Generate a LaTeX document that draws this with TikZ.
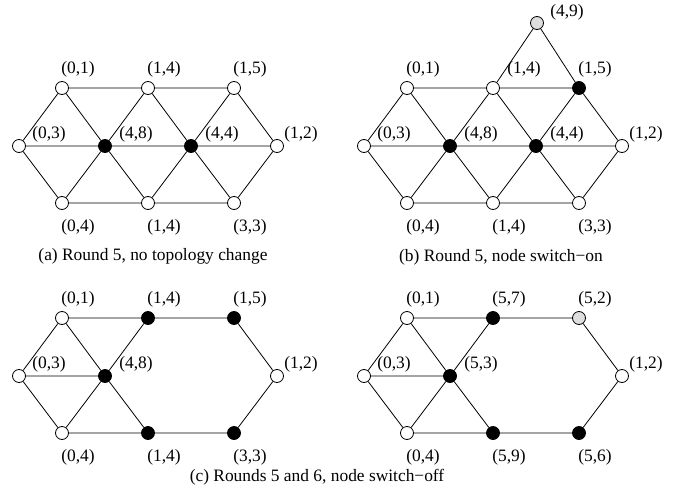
\documentclass[tikz,border=0pt]{standalone}
\usepackage{fontspec}
\setmainfont{Liberation Serif}
\begin{document}
\begin{tikzpicture}[x=1pt,y=-1pt,
  vtx/.style={circle,draw,line width=0.8pt,minimum size=13pt,inner sep=0pt},
  wn/.style={vtx,fill=white},
  bn/.style={vtx,fill=black},
  gn/.style={vtx,fill=black!13},
  lab/.style={font=\fontsize{17.4}{19}\selectfont,inner sep=0pt},
  captxt/.style={font=\fontsize{17.4}{19}\selectfont,inner sep=0pt},
  conn/.style={line width=0.8pt}]
\useasboundingbox (0,0) rectangle (686,498);
\newcommand\lbl[4]{\node[lab,xshift=#2pt,yshift=#3pt] at (#1) {#4};}

% ---------------- panel (a)
\begin{scope}
\node[wn] (aL)  at (19,146) {};
\node[wn] (aT1) at (62,88) {};
\node[wn] (aT2) at (148,88) {};
\node[wn] (aT3) at (234,88) {};
\node[bn] (aM1) at (105,146) {};
\node[bn] (aM2) at (191,146) {};
\node[wn] (aR)  at (277,146) {};
\node[wn] (aB1) at (62,203) {};
\node[wn] (aB2) at (148,203) {};
\node[wn] (aB3) at (234,203) {};
\end{scope}
\draw[conn] (aT1)--(aT2) (aT2)--(aT3) (aL)--(aM1) (aM1)--(aM2) (aM2)--(aR)
  (aB1)--(aB2) (aB2)--(aB3)
  (aL)--(aT1) (aL)--(aB1) (aT1)--(aM1) (aB1)--(aM1) (aM1)--(aT2) (aM1)--(aB2)
  (aT2)--(aM2) (aB2)--(aM2) (aM2)--(aT3) (aM2)--(aB3) (aT3)--(aR) (aB3)--(aR);
\lbl{aT1}{16}{19}{(0,1)}
\lbl{aT2}{16}{19}{(1,4)}
\lbl{aT3}{16}{19}{(1,5)}
\lbl{aL}{30}{12}{(0,3)}
\lbl{aM1}{31}{12}{(4,8)}
\lbl{aM2}{31}{12}{(4,4)}
\lbl{aR}{24}{12}{(1,2)}
\lbl{aB1}{16}{-24}{(0,4)}
\lbl{aB2}{16}{-24}{(1,4)}
\lbl{aB3}{16}{-24}{(3,3)}
\node[captxt] (capa) at (153,256) {(a) Round 5, no topology change};

% ---------------- panel (b)
\begin{scope}[shift={(345,0)}]
\node[wn] (bL)  at (19,146) {};
\node[wn] (bT1) at (62,88) {};
\node[wn] (bT2) at (148,88) {};
\node[bn] (bT3) at (234,88) {};
\node[bn] (bM1) at (105,146) {};
\node[bn] (bM2) at (191,146) {};
\node[wn] (bR)  at (277,146) {};
\node[wn] (bB1) at (62,203) {};
\node[wn] (bB2) at (148,203) {};
\node[wn] (bB3) at (234,203) {};
\node[gn] (bX)  at (192,23) {};
\end{scope}
\draw[conn] (bT1)--(bT2) (bT2)--(bT3) (bL)--(bM1) (bM1)--(bM2) (bM2)--(bR)
  (bB1)--(bB2) (bB2)--(bB3)
  (bL)--(bT1) (bL)--(bB1) (bT1)--(bM1) (bB1)--(bM1) (bM1)--(bT2) (bM1)--(bB2)
  (bT2)--(bM2) (bB2)--(bM2) (bM2)--(bT3) (bM2)--(bB3) (bT3)--(bR) (bB3)--(bR)
  (bT2)--(bX) (bX)--(bT3);
\lbl{bX}{30}{11}{(4,9)}
\lbl{bT1}{16}{19}{(0,1)}
\lbl{bT2}{31}{19}{(1,4)}
\lbl{bT3}{16}{19}{(1,5)}
\lbl{bL}{30}{12}{(0,3)}
\lbl{bM1}{31}{12}{(4,8)}
\lbl{bM2}{31}{12}{(4,4)}
\lbl{bR}{24}{12}{(1,2)}
\lbl{bB1}{16}{-24}{(0,4)}
\lbl{bB2}{16}{-24}{(1,4)}
\lbl{bB3}{16}{-24}{(3,3)}
\node[captxt] (capb) at (501,257) {(b) Round 5, node switch−on};

% ---------------- panel (c)
\begin{scope}[shift={(0,230)}]
\node[wn] (cL)  at (19,146) {};
\node[wn] (cT1) at (62,88) {};
\node[bn] (cT2) at (148,88) {};
\node[bn] (cT3) at (234,88) {};
\node[bn] (cM1) at (105,146) {};
\node[wn] (cR)  at (277,146) {};
\node[wn] (cB1) at (62,203) {};
\node[bn] (cB2) at (148,203) {};
\node[bn] (cB3) at (234,203) {};
\end{scope}
\draw[conn] (cT1)--(cT2) (cT2)--(cT3) (cL)--(cM1)
  (cB1)--(cB2) (cB2)--(cB3)
  (cL)--(cT1) (cL)--(cB1) (cT1)--(cM1) (cB1)--(cM1) (cM1)--(cT2) (cM1)--(cB2)
  (cT3)--(cR) (cB3)--(cR);
\lbl{cT1}{16}{19}{(0,1)}
\lbl{cT2}{16}{19}{(1,4)}
\lbl{cT3}{16}{19}{(1,5)}
\lbl{cL}{30}{12}{(0,3)}
\lbl{cM1}{31}{12}{(4,8)}
\lbl{cR}{24}{12}{(1,2)}
\lbl{cB1}{16}{-24}{(0,4)}
\lbl{cB2}{16}{-24}{(1,4)}
\lbl{cB3}{16}{-24}{(3,3)}

% ---------------- panel (d)
\begin{scope}[shift={(345,230)}]
\node[wn] (dL)  at (19,146) {};
\node[wn] (dT1) at (62,88) {};
\node[bn] (dT2) at (148,88) {};
\node[gn] (dT3) at (234,88) {};
\node[bn] (dM1) at (105,146) {};
\node[wn] (dR)  at (277,146) {};
\node[wn] (dB1) at (62,203) {};
\node[bn] (dB2) at (148,203) {};
\node[bn] (dB3) at (234,203) {};
\end{scope}
\draw[conn] (dT1)--(dT2) (dT2)--(dT3) (dL)--(dM1)
  (dB1)--(dB2) (dB2)--(dB3)
  (dL)--(dT1) (dL)--(dB1) (dT1)--(dM1) (dB1)--(dM1) (dM1)--(dT2) (dM1)--(dB2)
  (dT3)--(dR) (dB3)--(dR);
\lbl{dT1}{16}{19}{(0,1)}
\lbl{dT2}{16}{19}{(5,7)}
\lbl{dT3}{16}{19}{(5,2)}
\lbl{dL}{30}{12}{(0,3)}
\lbl{dM1}{31}{12}{(5,3)}
\lbl{dR}{24}{12}{(1,2)}
\lbl{dB1}{16}{-24}{(0,4)}
\lbl{dB2}{16}{-24}{(5,9)}
\lbl{dB3}{16}{-24}{(5,6)}

\node[captxt] (capc) at (317,477) {(c) Rounds 5 and 6, node switch−off};
\end{tikzpicture}
\end{document}
